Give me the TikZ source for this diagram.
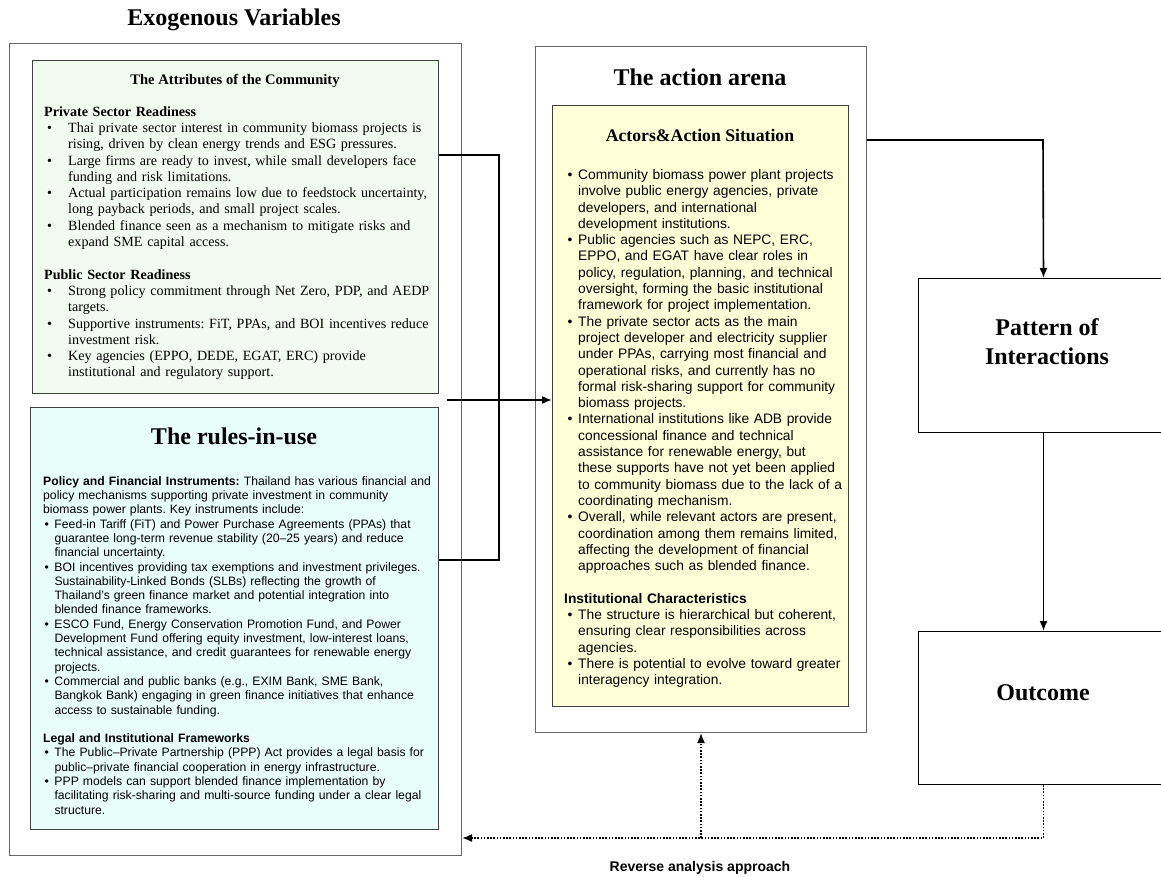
\documentclass[tikz,border=0pt]{standalone}
\usepackage{fontspec}
\setmainfont{Liberation Serif}
\setsansfont{Liberation Sans}
\usetikzlibrary{arrows.meta}
\definecolor{greenfill}{HTML}{F2FBEF}
\definecolor{cyanfill}{HTML}{E8FEFB}
\definecolor{yellowfill}{HTML}{FFFFD8}
\newcommand\bul[3]{\par\hangindent=#2\hangafter=1\noindent\hbox to #2{\hspace*{#1}\textbullet\hfil}\ignorespaces#3\par}
\newcommand\blankline{\par\vskip\baselineskip}
\frenchspacing
\begin{document}
\begin{tikzpicture}[x=1pt,y=-1pt,
  outer/.style={draw=black!60, line width=1pt, inner sep=0, anchor=north west},
  inbox/.style={draw=black!75, line width=1.3pt, inner sep=0, anchor=north west},
  plainbox/.style={draw=black, line width=1pt, inner sep=0, anchor=north west},
  conn/.style={line width=1.6pt, -{Latex[length=10pt,width=8pt]}},
  brk/.style={line width=1.6pt},
  dotl/.style={line width=1.6pt, dash pattern=on 1.6pt off 1.6pt},
  dotarrow/.style={dotl, -{Latex[length=10pt,width=8pt]}},
  bigtitle/.style={font=\bfseries\fontsize{24}{29}\selectfont, align=center, inner sep=0},
  serifbody/.style={font=\frenchspacing\fontsize{14.1}{16.3}\selectfont, text width=400pt, align=left, inner sep=0, anchor=north west},
  rulesbody/.style={font=\frenchspacing\sffamily\fontsize{12.2}{14.3}\selectfont, text width=400pt, align=left, inner sep=0, anchor=north west},
  yellowbody/.style={font=\frenchspacing\sffamily\fontsize{13.8}{16.3}\selectfont, text width=290pt, align=left, inner sep=0, anchor=north west}
]
\useasboundingbox (0,0) rectangle (1161,877);
\fill[white] (0,0) rectangle (1161,877);

% ---- boxes ----
\node[outer, minimum width=452, minimum height=812] (exo) at (9,43) {};
\node[inbox, fill=greenfill, minimum width=406, minimum height=333] (green) at (32,60) {};
\node[inbox, fill=cyanfill, minimum width=408, minimum height=422] (rules) at (30,407) {};
\node[outer, minimum width=331, minimum height=686] (arena) at (535,46) {};
\node[inbox, fill=yellowfill, minimum width=296, minimum height=601] (yellow) at (552,105) {};
\node[plainbox, minimum width=250, minimum height=154] (pattern) at (918,278) {};
\node[plainbox, minimum width=250, minimum height=153] (outcome) at (918,631) {};

% ---- titles ----
\node[bigtitle] (exotitle) at (234,20) {Exogenous Variables};
\node[bigtitle] (arenatitle) at (700,77) {The action arena};
\node[bigtitle] (rulestitle) at (234,436) {The rules-in-use};
\node[font=\bfseries\fontsize{17.7}{21}\selectfont, inner sep=0] (yellowtitle) at (700,135) {Actors\&Action Situation};
\node[font=\bfseries\fontsize{14.6}{17}\selectfont, inner sep=0] (greentitle) at (235,81) {The Attributes of the Community};
\node[bigtitle] (patterntext) at (1047,342) {Pattern of\\Interactions};
\node[bigtitle] (outcometext) at (1043,693) {Outcome};
\node[font=\sffamily\bfseries\fontsize{14}{17}\selectfont, inner sep=0] (revtext) at (700,868) {Reverse analysis approach};

% ---- green body ----
\node[serifbody] (greenbody) at (44,104.5) {\strut\noindent\textbf{Private Sector Readiness}
\bul{3pt}{24pt}{Thai private sector interest in community biomass projects is\newline rising, driven by clean energy trends and ESG pressures.}
\bul{3pt}{24pt}{Large firms are ready to invest, while small developers face\newline funding and risk limitations.}
\bul{3pt}{24pt}{Actual participation remains low due to feedstock uncertainty,\newline long payback periods, and small project scales.}
\bul{3pt}{24pt}{Blended finance seen as a mechanism to mitigate risks and\newline expand SME capital access.}
\blankline
\noindent\textbf{Public Sector Readiness}
\bul{3pt}{24pt}{Strong policy commitment through Net Zero, PDP, and AEDP\newline targets.}
\bul{3pt}{24pt}{Supportive instruments: FiT, PPAs, and BOI incentives reduce\newline investment risk.}
\bul{3pt}{24pt}{Key agencies (EPPO, DEDE, EGAT, ERC) provide\newline institutional and regulatory support.}};

% ---- rules body ----
\node[rulesbody] (rulesbody) at (43,475) {\strut\noindent\textbf{Policy and Financial Instruments:} Thailand has various financial and\newline policy mechanisms supporting private investment in community\newline biomass power plants. Key instruments include:
\bul{1.5pt}{11.3pt}{Feed-in Tariff (FiT) and Power Purchase Agreements (PPAs) that\newline guarantee long-term revenue stability (20–25 years) and reduce\newline financial uncertainty.}
\bul{1.5pt}{11.3pt}{BOI incentives providing tax exemptions and investment privileges.\newline Sustainability-Linked Bonds (SLBs) reflecting the growth of\newline Thailand’s green finance market and potential integration into\newline blended finance frameworks.}
\bul{1.5pt}{11.3pt}{ESCO Fund, Energy Conservation Promotion Fund, and Power\newline Development Fund offering equity investment, low-interest loans,\newline technical assistance, and credit guarantees for renewable energy\newline projects.}
\bul{1.5pt}{11.3pt}{Commercial and public banks (e.g., EXIM Bank, SME Bank,\newline Bangkok Bank) engaging in green finance initiatives that enhance\newline access to sustainable funding.}
\blankline
\noindent\textbf{Legal and Institutional Frameworks}
\bul{1.5pt}{11.3pt}{The Public–Private Partnership (PPP) Act provides a legal basis for\newline public–private financial cooperation in energy infrastructure.}
\bul{1.5pt}{11.3pt}{PPP models can support blended finance implementation by\newline facilitating risk-sharing and multi-source funding under a clear legal\newline structure.}};

% ---- yellow body ----
\node[yellowbody] (yellowbody) at (564,163) {\bul{3.5pt}{14pt}{\strut Community biomass power plant projects\newline involve public energy agencies, private\newline developers, and international\newline development institutions.}
\bul{3.5pt}{14pt}{Public agencies such as NEPC, ERC,\newline EPPO, and EGAT have clear roles in\newline policy, regulation, planning, and technical\newline oversight, forming the basic institutional\newline framework for project implementation.}
\bul{3.5pt}{14pt}{The private sector acts as the main\newline project developer and electricity supplier\newline under PPAs, carrying most financial and\newline operational risks, and currently has no\newline formal risk-sharing support for community\newline biomass projects.}
\bul{3.5pt}{14pt}{International institutions like ADB provide\newline concessional finance and technical\newline assistance for renewable energy, but\newline these supports have not yet been applied\newline to community biomass due to the lack of a\newline coordinating mechanism.}
\bul{3.5pt}{14pt}{Overall, while relevant actors are present,\newline coordination among them remains limited,\newline affecting the development of financial\newline approaches such as blended finance.}
\blankline
\noindent\textbf{Institutional Characteristics}
\bul{3.5pt}{14pt}{The structure is hierarchical but coherent,\newline ensuring clear responsibilities across\newline agencies.}
\bul{3.5pt}{14pt}{There is potential to evolve toward greater\newline interagency integration.}};

% ---- connectors ----
\coordinate (bt) at (499,155);
\coordinate (bb) at (499,560);
\draw[brk] (green.east |- bt) -- (bt) -- (bb) -- (rules.east |- bb);
\coordinate (ain) at (447,400);
\draw[conn] (ain) -- (yellow.west |- ain);
\coordinate (ac) at (1043,140);
\draw[conn] (arena.east |- ac) -- (ac) -- (pattern.north);
\draw[conn] (pattern.south) -- (outcome.north);
\coordinate (rv) at (701,838);
\draw[dotarrow] (outcome.south) -- (outcome.south |- rv) -- (exo.east |- rv);
\draw[dotarrow] (rv) -- (arena.south -| rv);
\end{tikzpicture}
\end{document}
